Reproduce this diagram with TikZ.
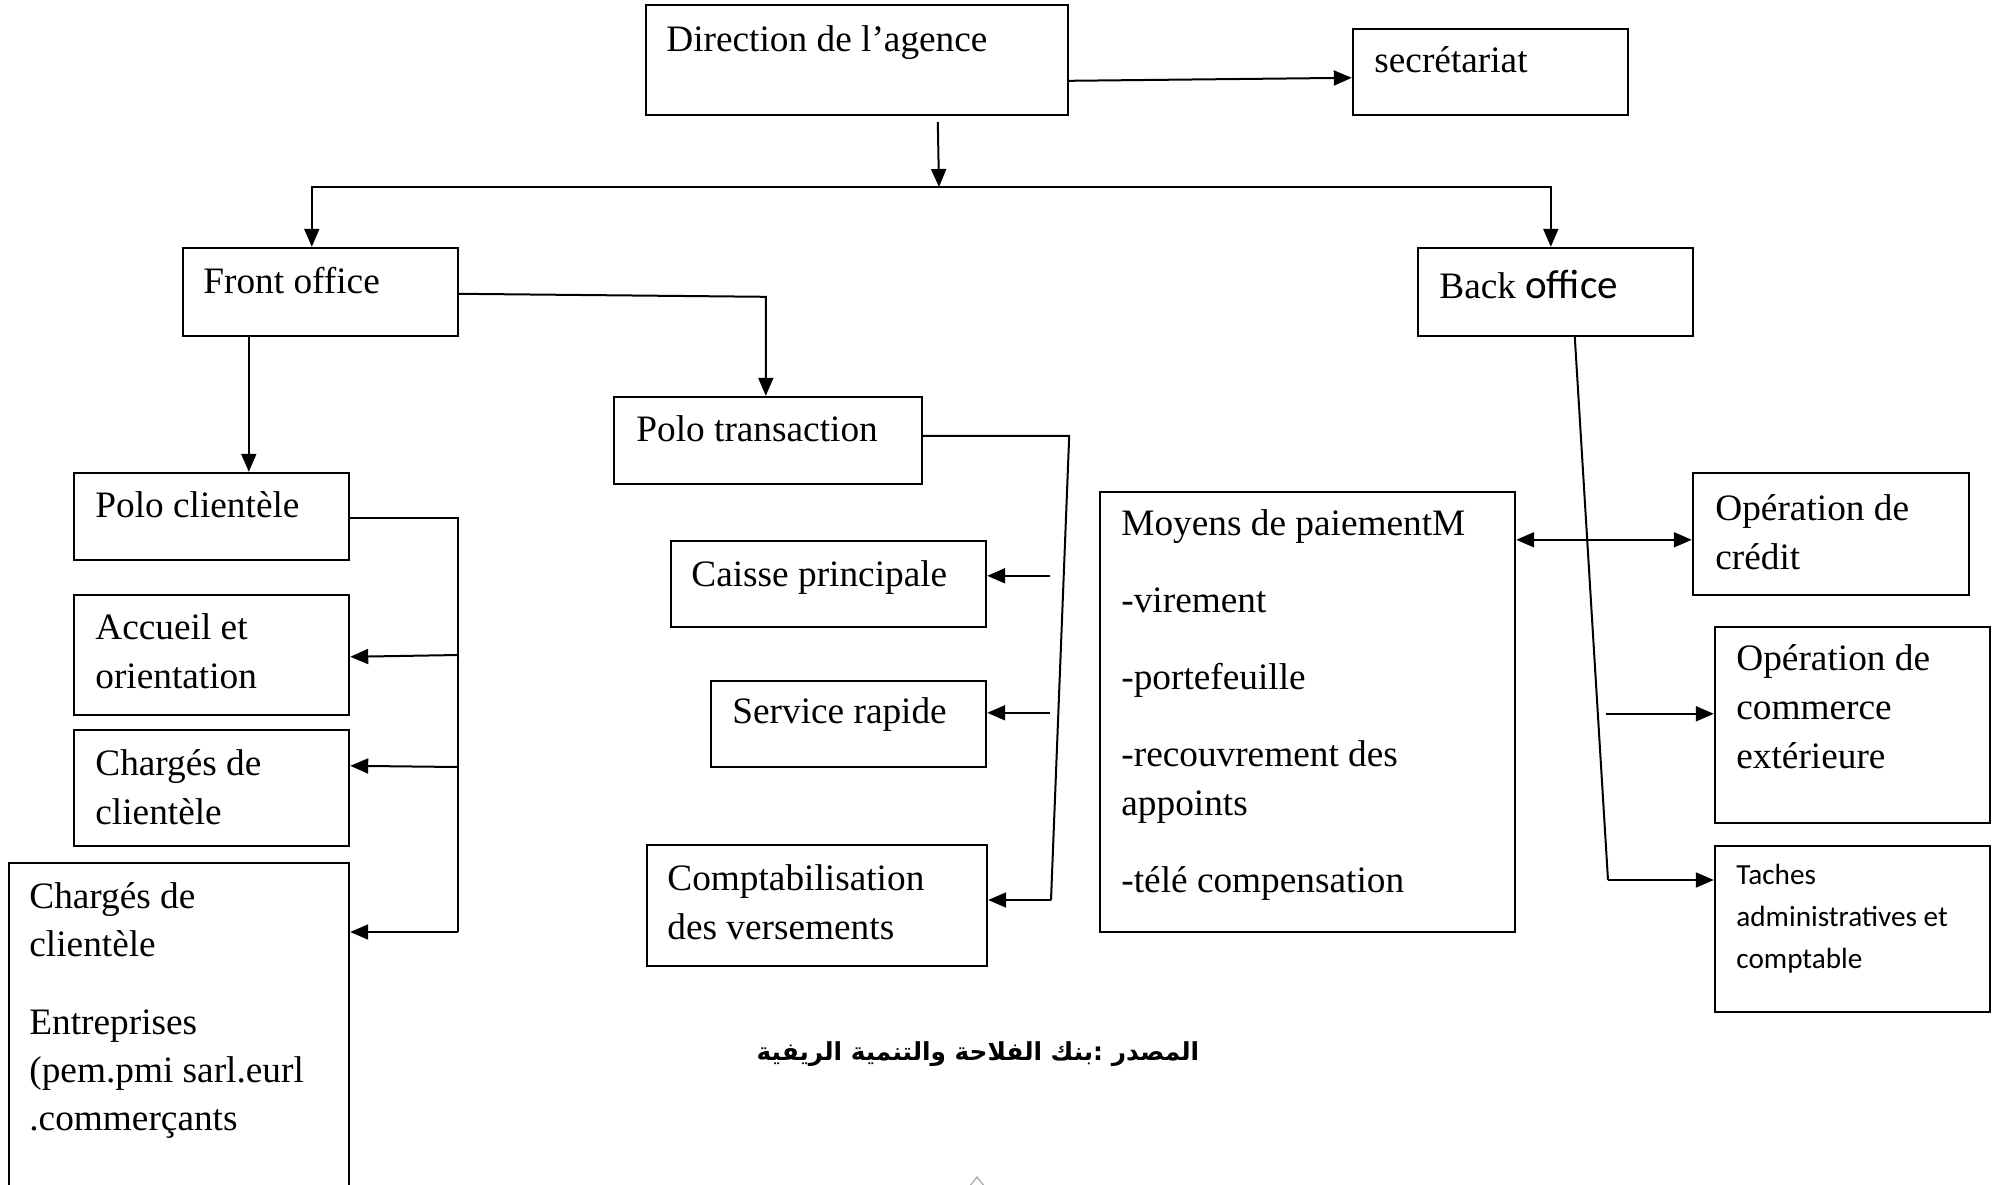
\documentclass[tikz,border=0pt]{standalone}
\usepackage{fontspec}
\setmainfont{Liberation Serif}
\newfontfamily\calfont{Carlito}
\newfontfamily\arabicfont[Script=Arabic]{DejaVu Sans}
\TeXXeTstate=1
\usetikzlibrary{arrows.meta,calc,fit}
\newcommand{\mlines}[1]{\begin{tabular}[t]{@{}l@{}}#1\end{tabular}}
\tikzset{
  box/.style={draw, line width=1.2pt, inner sep=0pt, rectangle},
  txt/.style={anchor=base west, inner sep=0pt, font=\fontsize{18.65pt}{24.5pt}\selectfont},
  conn/.style={line width=1pt},
  arr/.style={line width=1pt, -{Triangle[length=9pt,width=7.5pt]}},
  arrboth/.style={line width=1pt, {Triangle[length=9pt,width=7.5pt]}-{Triangle[length=9pt,width=7.5pt]}}
}
\begin{document}
\begin{tikzpicture}[x=0.5pt,y=-0.5pt]
\clip (0,0) rectangle (1998,1184);
\useasboundingbox (0,0) rectangle (1998,1184);
\fill[white] (0,0) rectangle (1998,1184);

% boxes
\node[box, fit={(646,5) (1068,115)}] (dir) {};
\node[box, fit={(1353,29) (1628,115)}] (sec) {};
\node[box, fit={(183,248) (458,336)}] (fo) {};
\node[box, fit={(1418,248) (1693,336)}] (bo) {};
\node[box, fit={(614,397) (922,484)}] (pt) {};
\node[box, fit={(74,473) (349,560)}] (pc) {};
\node[box, fit={(74,595) (349,715)}] (acc) {};
\node[box, fit={(74,730) (349,846)}] (cc1) {};
\node[box, fit={(9,863) (349,1200)}] (cc2) {};
\node[box, fit={(671,541) (986,627)}] (cai) {};
\node[box, fit={(711,681) (986,767)}] (ser) {};
\node[box, fit={(647,845) (987,966)}] (com) {};
\node[box, fit={(1100,492) (1515,932)}] (moy) {};
\node[box, fit={(1693,473) (1969,595)}] (opc) {};
\node[box, fit={(1715,627) (1990,823)}] (oce) {};
\node[box, fit={(1715,846) (1990,1012)}] (tac) {};

% texts
\node[txt] (tdir) at (666,51) {Direction de l’agence};
\node[txt] (tsec) at (1374,72) {secrétariat};
\node[txt] (tfo) at (203,293) {Front office};
\node[txt] (tbo) at (1439,298) {Back {\calfont\fontsize{20.5pt}{24pt}\selectfont office}};
\node[txt] (tpt) at (636,441) {Polo transaction};
\node[txt] (tpc) at (95,517) {Polo clientèle};
\node[txt] (tacc) at (95,639) {\mlines{Accueil et\\orientation}};
\node[txt] (tcc1) at (95,775) {\mlines{Chargés de\\clientèle}};
\node[txt, font=\fontsize{18.65pt}{24pt}\selectfont] (tcc2) at (29,908) {\mlines{Chargés de\\clientèle\\[15pt]Entreprises\\(pem.pmi sarl.eurl\\.commerçants}};
\node[txt] (tcai) at (691,586) {Caisse principale};
\node[txt] (tser) at (732,723) {Service rapide};
\node[txt] (tcom) at (667,890) {\mlines{Comptabilisation\\des versements}};
\node[txt] (tmoy) at (1121,535) {\mlines{Moyens de paiementM\\[14pt]-virement\\[14pt]-portefeuille\\[14pt]-recouvrement des\\appoints\\[14pt]-télé compensation}};
\node[txt] (topc) at (1715,520) {\mlines{Opération de\\crédit}};
\node[txt] (toce) at (1736,670) {\mlines{Opération de\\commerce\\extérieure}};
\node[txt, font=\calfont\fontsize{14.6pt}{21pt}\selectfont] (ttac) at (1736,884) {\mlines{Taches\\administratives et\\comptable}};

\node[anchor=base, inner sep=0pt, font=\arabicfont\bfseries\fontsize{12.4pt}{14pt}\selectfont] (src) at (978,1060) {\beginR المصدر :بنك الفلاحة والتنمية الريفية\endR};

% connectors
\draw[arr] ($(dir.north east)+(0,77)$) -- ($(sec.north west)+(0,50)$);
\coordinate (j) at (939,187);
\draw[arr] ($(dir.south west)+(293,6)$) -- (j);
\draw[arr] (j) -| ($(fo.north west)+(130,0)$);
\draw[arr] (j) -| ($(bo.north west)+(134,0)$);

\draw[arr] ($(fo.north east)+(0,47)$) -- ($(pt.north west)+(153,-99)$) -- ($(pt.north west)+(153,0)$);
\draw[arr] ($(fo.south west)+(67,0)$) -- ($(pc.north west)+(176,0)$);

\coordinate (pcbus) at (458,932);
\draw[conn] ($(pc.north east)+(0,46)$) -| (pcbus);
\draw[arr] (pcbus) -- (pcbus -| cc2.east);
\draw[arr] ($(pcbus)+(0,-277)$) -- ($(acc.north east)+(0,63)$);
\draw[arr] ($(pcbus)+(0,-165)$) -- ($(cc1.north east)+(0,37)$);

\coordinate (ptbus) at (1051,900);
\draw[conn] ($(pt.north east)+(0,40)$) -- ++(146,0) -- (ptbus);
\draw[arr] (ptbus) -- (ptbus -| com.east);
\draw[arr] ($(cai.north east)+(63,36)$) -- ($(cai.north east)+(0,36)$);
\draw[arr] ($(ser.north east)+(63,33)$) -- ($(ser.north east)+(0,33)$);

\coordinate (bobus) at (1608,880);
\draw[conn] ($(bo.south west)+(158,0)$) -- (bobus);
\draw[arr] (bobus) -- (bobus -| tac.west);
\draw[arr] ($(oce.north west)+(-108,88)$) -- ($(oce.north west)+(0,88)$);

\draw[arrboth] ($(moy.north east)+(0,49)$) -- ($(opc.north west)+(0,68)$);

% small mark at bottom
\draw[gray!70, line width=0.6pt] (969,1187) -- (977,1177) -- (985,1187);
\end{tikzpicture}
\end{document}
